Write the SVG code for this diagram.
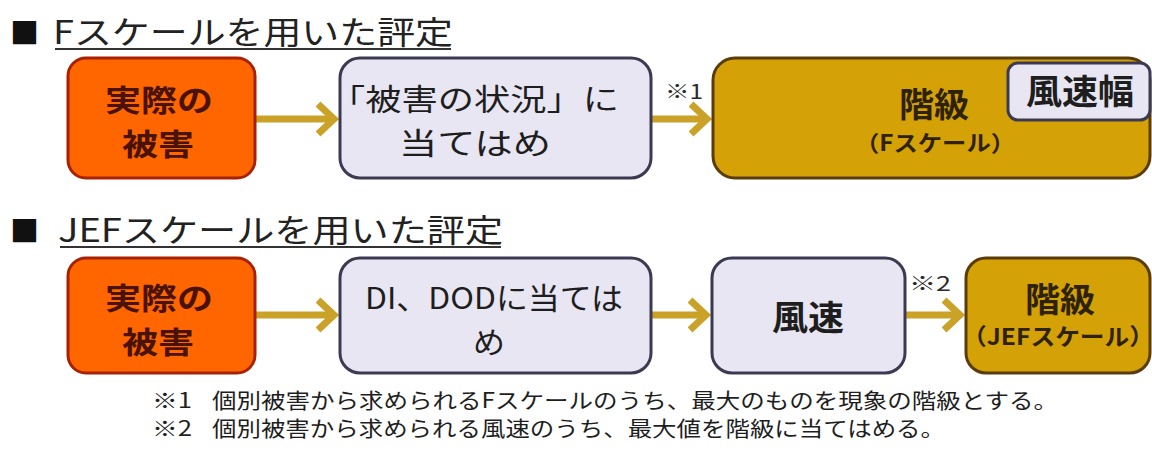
<svg xmlns="http://www.w3.org/2000/svg" width="1152" height="451" viewBox="0 0 1152 451">
<defs>
<style>
text{font-family:"Noto Sans CJK JP","Noto Sans",sans-serif;}
.title{font-size:32px;fill:#222;}
.bullet{font-size:29px;fill:#111;}
.uline{stroke:#333;stroke-width:2;}
.dmg{fill:#FF6600;stroke:#A82200;stroke-width:3;}
.dmgt{font-size:30px;font-weight:bold;fill:#4A1200;text-anchor:middle;}
.lav{fill:#E8E6F2;stroke:#3C3A52;stroke-width:3;}
.lavt{font-size:30px;fill:#1E1E1E;text-anchor:middle;}
.lavb{font-size:34px;font-weight:bold;fill:#1E1E1E;text-anchor:middle;}
.gold{fill:#D4A106;stroke:#5A3C08;stroke-width:3;}
.goldt{font-size:34px;font-weight:bold;fill:#2E2200;text-anchor:middle;}
.golds{font-size:22px;font-weight:bold;fill:#2E2200;text-anchor:middle;}
.note{font-size:20px;fill:#2A2A2A;}
.foot{font-size:21px;fill:#1E1E1E;}
.conn{stroke:#C9A227;stroke-width:7;fill:none;marker-end:url(#arr);}
</style>
<marker id="arr" markerUnits="userSpaceOnUse" markerWidth="26" markerHeight="36" viewBox="0 0 26 36" refX="18" refY="18" orient="auto">
<path d="M2,3 L18,18 L2,33" fill="none" stroke="#C9A227" stroke-width="7" stroke-linejoin="miter"/>
</marker>
</defs>
<rect width="1152" height="451" fill="#FFFFFF"/>

<g id="title1">
<text class="bullet" x="10" y="44">■</text>
<text class="title" x="53" y="44" textLength="400" lengthAdjust="spacingAndGlyphs">Fスケールを用いた評定</text>
<line class="uline" x1="55" y1="49" x2="451" y2="49"/>
</g>

<g id="title2">
<text class="bullet" x="10" y="242">■</text>
<text class="title" x="58" y="242" textLength="445" lengthAdjust="spacingAndGlyphs">JEFスケールを用いた評定</text>
<line class="uline" x1="60" y1="247" x2="501" y2="247"/>
</g>

<g id="connectors">
<line class="conn" x1="255" y1="119" x2="334" y2="119"/>
<line class="conn" x1="651" y1="119" x2="707" y2="119"/>
<line class="conn" x1="255" y1="315" x2="334" y2="315"/>
<line class="conn" x1="651" y1="315" x2="706" y2="315"/>
<line class="conn" x1="905" y1="315" x2="960" y2="315"/>
<text class="note" x="665" y="99" textLength="38" lengthAdjust="spacingAndGlyphs">※1</text>
<text class="note" x="909" y="291" textLength="42" lengthAdjust="spacingAndGlyphs">※2</text>
</g>

<g id="f-damage">
<rect class="dmg" x="68" y="58" width="187" height="120" rx="18"/>
<text class="dmgt"><tspan x="159" y="111" textLength="108" lengthAdjust="spacingAndGlyphs">実際の</tspan><tspan x="158" y="155" textLength="72" lengthAdjust="spacingAndGlyphs">被害</tspan></text>
</g>

<g id="f-fit">
<rect class="lav" x="340" y="58" width="311" height="120" rx="20"/>
<text class="lavt"><tspan x="474" y="110" textLength="290" lengthAdjust="spacingAndGlyphs">「被害の状況」に</tspan><tspan x="475" y="154" textLength="152" lengthAdjust="spacingAndGlyphs">当てはめ</tspan></text>
</g>

<g id="f-class">
<rect class="gold" x="713" y="58" width="437" height="120" rx="22"/>
<text class="goldt" x="934" y="117" textLength="70" lengthAdjust="spacingAndGlyphs">階級</text>
<text class="golds" x="935" y="151" textLength="160" lengthAdjust="spacingAndGlyphs">（Fスケール）</text>
</g>

<g id="f-range">
<rect class="lav" x="1008" y="63" width="142" height="57" rx="10"/>
<text class="lavb" x="1080" y="104" textLength="108" lengthAdjust="spacingAndGlyphs">風速幅</text>
</g>

<g id="j-damage">
<rect class="dmg" x="68" y="258" width="187" height="115" rx="18"/>
<text class="dmgt"><tspan x="159" y="309" textLength="108" lengthAdjust="spacingAndGlyphs">実際の</tspan><tspan x="158" y="353" textLength="72" lengthAdjust="spacingAndGlyphs">被害</tspan></text>
</g>

<g id="j-fit">
<rect class="lav" x="340" y="258" width="311" height="115" rx="20"/>
<text class="lavt"><tspan x="494" y="309" textLength="258" lengthAdjust="spacingAndGlyphs">DI、DODに当ては</tspan><tspan x="489" y="353" textLength="32" lengthAdjust="spacingAndGlyphs">め</tspan></text>
</g>

<g id="j-speed">
<rect class="lav" x="712" y="258" width="193" height="115" rx="20"/>
<text class="lavb" x="808" y="330" textLength="72" lengthAdjust="spacingAndGlyphs">風速</text>
</g>

<g id="j-class">
<rect class="gold" x="966" y="258" width="184" height="115" rx="20"/>
<text class="goldt" x="1060" y="312" textLength="70" lengthAdjust="spacingAndGlyphs">階級</text>
<text class="golds" x="1058" y="345" textLength="192" lengthAdjust="spacingAndGlyphs" style="font-size:23px">（JEFスケール）</text>
</g>

<g id="footnotes">
<text class="foot" x="152" y="408" textLength="40" lengthAdjust="spacingAndGlyphs">※1</text>
<text class="foot" x="212" y="408" textLength="846" lengthAdjust="spacingAndGlyphs">個別被害から求められるFスケールのうち、最大のものを現象の階級とする。</text>
<text class="foot" x="152" y="436" textLength="40" lengthAdjust="spacingAndGlyphs">※2</text>
<text class="foot" x="212" y="436" textLength="733" lengthAdjust="spacingAndGlyphs">個別被害から求められる風速のうち、最大値を階級に当てはめる。</text>
</g>
</svg>
